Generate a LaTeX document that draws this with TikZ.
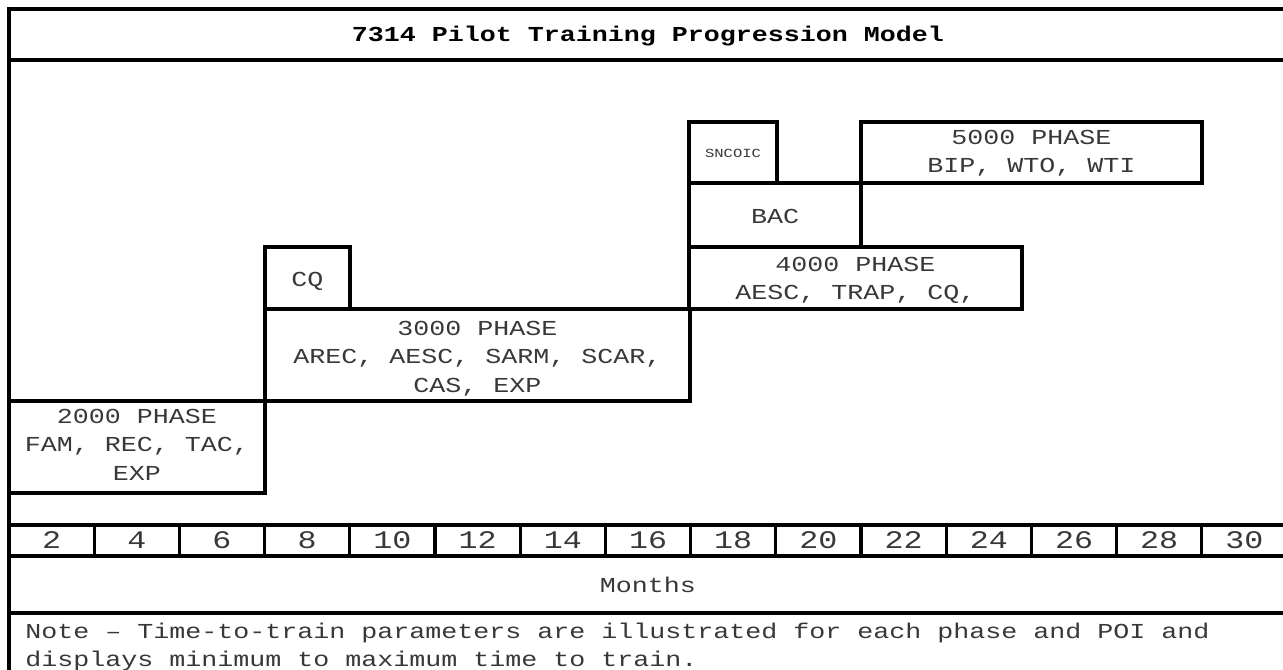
\documentclass[tikz,border=0pt]{standalone}
\usepackage{fontspec}
\setmainfont[FakeStretch=1.25]{Liberation Mono}
\usetikzlibrary{fit}
\begin{document}
\begin{tikzpicture}[x=0.75pt,y=-0.75pt,
  lw/.style={line width=2.4pt},
  box/.style={draw, lw, inner sep=0pt, outer sep=0pt},
  txt/.style={inner sep=0pt, outer sep=0pt, align=center, anchor=north,
    text=black!78, font=\fontsize{16}{21.4}\selectfont},
  cell/.style={draw, lw, inner sep=0pt, outer sep=0pt, anchor=north west,
    minimum width=63.9pt, minimum height=23.25pt, text=black!78,
    font=\fontsize{19}{22}\selectfont},
  notetext/.style={inner sep=0pt, anchor=north west, align=left, text=black!78,
    font=\fontsize{16}{21}\selectfont},
]
\useasboundingbox (0,0) rectangle (1283,669);
\begin{scope}
\clip (0,0) rectangle (1283,669);
% frame regions
\node[box, fit={(9,9) (1287,60)}] (titlebox) {};
\node[txt, text=black, font=\fontsize{16}{20}\selectfont\bfseries] (title) at (648,26) {7314 Pilot Training Progression Model};
\node[box, fit={(9,60) (1287,525)}] (chart) {};
\node[box, fit={(9,556) (1287,613)}] (monthsbox) {};
\node[txt] (months) at (648,577) {Months};
\node[box, fit={(9,613) (1287,700)}] (notebox) {};
% axis cells
\foreach \i in {1,...,15} {
  \pgfmathtruncatemacro{\lab}{2*\i}
  \node[cell] (m\i) at ({9+85.2*(\i-1)},525) {\lab};
}
% phase boxes
\node[box, fit={(9,401) (265,493)}] (p2000) {};
\node[txt] (t2000) at (137,409) {2000 PHASE\\FAM, REC, TAC,\\EXP};
\node[box, fit={(265,309) (690,401)}] (p3000) {};
\node[txt] (t3000) at (477.5,321) {3000 PHASE\\AREC, AESC, SARM, SCAR,\\CAS, EXP};
\node[box, fit={(265,247) (350,309)}] (cq) {};
\node[txt] (tcq) at (307.5,272) {CQ};
\node[box, fit={(689,247) (1022,309)}] (p4000) {};
\node[txt] (t4000) at (855.5,257) {4000 PHASE\\AESC, TRAP, CQ,};
\node[box, fit={(689,183) (861,247)}] (bac) {};
\node[txt] (tbac) at (775,209) {BAC};
\node[box, fit={(689,122) (777,183)}] (sncoic) {};
\node[txt, font=\fontsize{9.3}{11}\selectfont] (tsncoic) at (733,149) {SNCOIC};
\node[box, fit={(861,122) (1202,183)}] (p5000) {};
\node[txt] (t5000) at (1031.5,130) {5000 PHASE\\BIP, WTO, WTI};
% note
\node[notetext] (note) at (25,623) {Note – Time-to-train parameters are illustrated for each phase and POI and\\displays minimum to maximum time to train.};
\end{scope}
\end{tikzpicture}
\end{document}
